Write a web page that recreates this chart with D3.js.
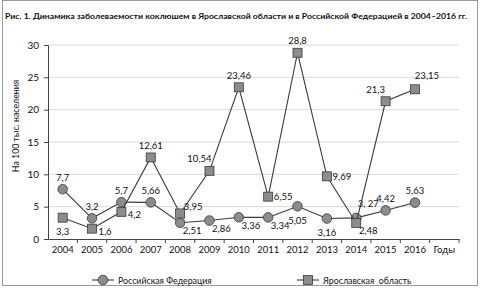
<!DOCTYPE html>
<html>
<head>
<meta charset="utf-8">
<script src="https://cdn.jsdelivr.net/npm/d3@7"></script>
<style>
  body { margin: 0; background: #fff; }
  text { font-family: Lato, "Open Sans", sans-serif; fill: #111; }
</style>
</head>
<body>
<svg id="chart" width="480" height="288"></svg>
<script>
// years on the x axis, last band holds the "Годы" caption
const years = ['2004','2005','2006','2007','2008','2009','2010','2011','2012','2013','2014','2015','2016']
const yTicks = [0, 5, 10, 15, 20, 25, 30]

// Российская Федерация
const rfValues = [7.7, 3.2, 5.7, 5.66, 2.51, 2.86, 3.36, 3.34, 5.05, 3.16, 3.27, 4.42, 5.63]
const rfLabels = ['7,7','3,2','5,7','5,66','2,51','2,86','3,36','3,34','5,05','3,16','3, 27','4,42','5,63']
const rfPlace = ['above','above','above','above','belowRight','belowRight','belowRight','belowRight','below','below','aboveRight','above','above']

// Ярославская область
const yarValues = [3.3, 1.6, 4.2, 12.61, 3.95, 10.54, 23.46, 6.55, 28.8, 9.69, 2.48, 21.3, 23.15]
const yarLabels = ['3,3','1,6','4,2','12,61','3,95','10,54','23,46','6,55','28,8','9,69','2,48','21,3','23,15']
const yarPlace = ['below','rightDown','rightDown','above','rightUp','aboveLeft','above','right','above','right','belowRight','aboveLeft','aboveRight']

// label offsets relative to the marker
const offsets = {
  above: [0, -12], below: [0, 14], right: [15, 0], rightDown: [13, 3], belowRight: [12, 8],
  aboveRight: [12, -14], aboveLeft: [-10, -12], rightUp: [13, -7]
}

const svg = d3.select('#chart')

// outer frame
svg.append('rect')
  .attr('x', 2.5).attr('y', 0.5).attr('width', 475).attr('height', 285)
  .attr('fill', 'none').attr('stroke', '#9a9a9a')

// title
svg.append('text')
  .attr('x', 5).attr('y', 19)
  .attr('font-size', 8).attr('font-weight', 'bold')
  .attr('textLength', 462).attr('lengthAdjust', 'spacingAndGlyphs')
  .attr('font-family', '"Liberation Sans", Arial, sans-serif')
  .text('Рис. 1. Динамика заболеваемости коклюшем в Ярославской области и в Российской Федерацией в 2004–2016 гг.')

const x = d3.scaleBand().domain([...years, 'Годы']).range([48, 459])
const y = d3.scaleLinear().domain([0, 30]).range([239, 45])
const cx = (d, i) => x(years[i]) + x.bandwidth() / 2

// gridlines
svg.append('g')
  .selectAll('line')
  .data(yTicks.filter(t => t > 0))
  .join('line')
  .attr('x1', 48).attr('x2', 459)
  .attr('y1', d => y(d)).attr('y2', d => y(d))
  .attr('stroke', '#d9d9d9')

// y axis
const yAxis = svg.append('g')
  .attr('transform', 'translate(48,0)')
  .call(d3.axisLeft(y).tickValues(yTicks).tickSize(4).tickPadding(5))
yAxis.select('.domain').attr('stroke', '#444')
yAxis.selectAll('.tick line').attr('stroke', '#444')
yAxis.selectAll('.tick text').attr('font-size', 10).attr('font-family', 'Lato, sans-serif').attr('fill', '#111')

// x axis
const xAxis = svg.append('g')
  .attr('transform', 'translate(0,239)')
  .call(d3.axisBottom(x).tickSize(0).tickPadding(7))
xAxis.select('.domain').attr('stroke', '#444')
xAxis.selectAll('.tick text').attr('font-size', 9.5).attr('font-family', 'Lato, sans-serif').attr('fill', '#111')
xAxis.append('g')
  .selectAll('line')
  .data([...years, 'Годы'])
  .join('line')
  .attr('x1', d => x(d) + x.bandwidth()).attr('x2', d => x(d) + x.bandwidth())
  .attr('y1', 0).attr('y2', 4)
  .attr('stroke', '#444')

// y axis title
svg.append('text')
  .attr('transform', 'translate(15,126) rotate(-90)')
  .attr('text-anchor', 'middle')
  .attr('dominant-baseline', 'central')
  .attr('font-size', 8.8)
  .text('На 100 тыс. населения')

const line = d3.line().x(cx).y(d => y(d))

function drawSeries(values, labels, place, shape) {
  const g = svg.append('g')
  g.append('path')
    .datum(values)
    .attr('d', line)
    .attr('fill', 'none')
    .attr('stroke', '#3a3a3a')
    .attr('stroke-width', 1.1)
  if (shape === 'circle') {
    g.selectAll('circle').data(values).join('circle')
      .attr('cx', cx).attr('cy', d => y(d)).attr('r', 4.8)
      .attr('fill', '#8c8c8c').attr('stroke', '#3a3a3a').attr('stroke-width', 0.8)
  } else {
    g.selectAll('rect').data(values).join('rect')
      .attr('x', (d, i) => cx(d, i) - 4.5).attr('y', d => y(d) - 4.5)
      .attr('width', 9).attr('height', 9)
      .attr('fill', '#8c8c8c').attr('stroke', '#3a3a3a').attr('stroke-width', 0.8)
  }
  g.selectAll('text').data(values).join('text')
    .attr('x', (d, i) => cx(d, i) + offsets[place[i]][0])
    .attr('y', (d, i) => y(d) + offsets[place[i]][1])
    .attr('text-anchor', 'middle')
    .attr('dominant-baseline', 'central')
    .attr('font-size', 9.5)
    .text((d, i) => labels[i])
}

drawSeries(rfValues, rfLabels, rfPlace, 'circle')
drawSeries(yarValues, yarLabels, yarPlace, 'square')

// legend
const legend = [
  { name: 'Российская Федерация', shape: 'circle', x: 92 },
  { name: 'Ярославская  область', shape: 'square', x: 297 }
]
const lg = svg.append('g').attr('transform', 'translate(0,280)')
legend.forEach(l => {
  lg.append('line').attr('x1', l.x).attr('x2', l.x + 22).attr('y1', 0).attr('y2', 0)
    .attr('stroke', '#3a3a3a').attr('stroke-width', 1.1)
  if (l.shape === 'circle') {
    lg.append('circle').attr('cx', l.x + 11).attr('cy', 0).attr('r', 4.8)
      .attr('fill', '#8c8c8c').attr('stroke', '#3a3a3a').attr('stroke-width', 0.8)
  } else {
    lg.append('rect').attr('x', l.x + 6.5).attr('y', -4.5).attr('width', 9).attr('height', 9)
      .attr('fill', '#8c8c8c').attr('stroke', '#3a3a3a').attr('stroke-width', 0.8)
  }
  lg.append('text').attr('x', l.x + 26).attr('y', 0)
    .attr('dominant-baseline', 'central')
    .attr('font-size', 8.8)
    .style('white-space', 'pre')
    .text(l.name)
})
</script>
</body>
</html>
